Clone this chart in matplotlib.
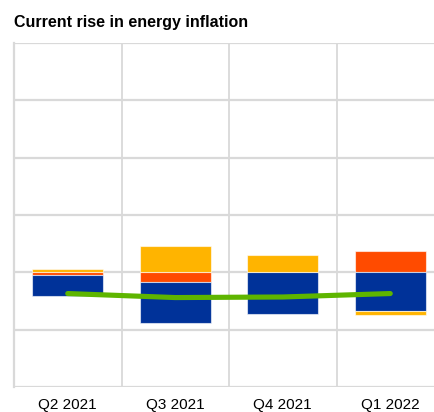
import matplotlib
matplotlib.use("Agg")
import matplotlib.pyplot as plt
import numpy as np

categories = ["Q2 2021", "Q3 2021", "Q4 2021", "Q1 2022"]
# contributions (percentage points)
orange_vals = [-0.05, -0.16, 0.0, 0.37]
blue_vals = [-0.37, -0.73, -0.72, -0.67]
yellow_vals = [0.065, 0.46, 0.30, -0.08]
green_line = [-0.37, -0.44, -0.43, -0.37]

series = [
    (orange_vals, "#ff4b00"),
    (blue_vals, "#003299"),
    (yellow_vals, "#ffb400"),
]

plt.rcParams['font.family'] = ['Liberation Sans', 'DejaVu Sans']
W, H = 434, 412
fig = plt.figure(figsize=(W / 100, H / 100), dpi=100)
left, right, top, bottom = 14, 444, 43, 387
ax = fig.add_axes([left / W, 1 - bottom / H, (right - left) / W, (bottom - top) / H])

x = np.arange(len(categories))
pos = np.zeros(len(categories))
neg = np.zeros(len(categories))
for vals, col in series:
    vals = np.array(vals)
    base = np.where(vals >= 0, pos, neg)
    ax.bar(x, vals, bottom=base, width=0.66, color=col,
           edgecolor=(1, 1, 1, 0.6), linewidth=0.8, zorder=3)
    pos = pos + np.where(vals >= 0, vals, 0)
    neg = neg + np.where(vals < 0, vals, 0)

ax.plot(x, green_line, color="#5eb500", lw=3.7, solid_capstyle="round",
        solid_joinstyle="round", zorder=4)

ax.set_xlim(-0.5, 3.5)
ax.set_ylim(-2, 4)
ax.set_yticks(np.arange(-2, 5, 1))
ax.set_yticklabels([])
ax.tick_params(axis='y', length=0)
ax.set_xticks(x)
ax.set_xticklabels(categories, fontsize=11, color="#000000")
ax.tick_params(axis='x', length=0, pad=8)
ax.set_xticks([0.5, 1.5, 2.5], minor=True)
ax.tick_params(axis='x', which='minor', length=0)
ax.grid(axis='y', color="#d9d9d9", lw=1.6, zorder=0)
ax.grid(axis='x', which='minor', color="#d9d9d9", lw=1.3, zorder=0)
ax.grid(axis='x', which='major', visible=False)
for s in ["top", "right", "bottom"]:
    ax.spines[s].set_visible(False)
ax.spines["left"].set_color("#d9d9d9")
ax.spines["left"].set_linewidth(1.6)
ax.set_axisbelow(True)

fig.text(14 / W, 1 - 27 / H, "Current rise in energy inflation", fontsize=11.5,
         fontweight="bold", ha="left", va="baseline")

fig.savefig("out.png", dpi=100)
